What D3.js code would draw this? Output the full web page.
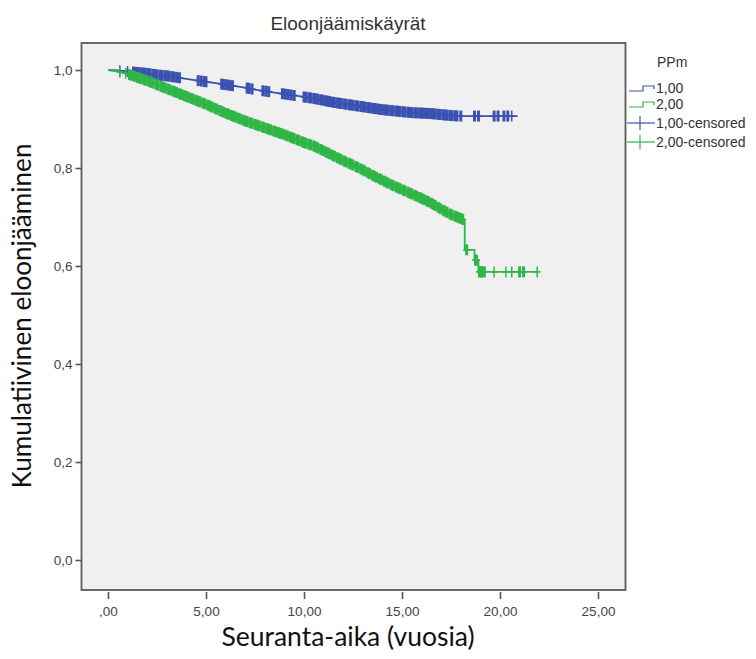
<!DOCTYPE html>
<html>
<head>
<meta charset="utf-8">
<script src="https://cdn.jsdelivr.net/npm/d3@7"></script>
<style>
  body { margin: 0; background: #fff; }
  svg { display: block; }
</style>
</head>
<body>
<div id="chart"></div>
<script>
// survival curve (time in years, cumulative survival).
// the many small steps merge into a line at this size; the late big drops are kept as real steps.
var times1 = [0, 0.5, 1.0, 1.5, 2.0, 2.5, 3.0, 3.5, 4.0, 4.5, 5.0, 5.5, 6.0, 6.5, 7.0, 7.5, 8.0, 8.5, 9.0, 9.5, 10.0, 10.5, 11.0, 11.5, 12.0, 12.5, 13.0, 13.5, 14.0, 14.5, 15.0, 15.5, 16.0, 16.5, 17.0, 17.5, 18.0, 20.9];
var surv1  = [1.000, 0.999, 0.997, 0.995, 0.993, 0.990, 0.988, 0.985, 0.982, 0.979, 0.976, 0.973, 0.970, 0.967, 0.964, 0.960, 0.957, 0.954, 0.951, 0.948, 0.945, 0.942, 0.938, 0.934, 0.931, 0.928, 0.925, 0.922, 0.919, 0.917, 0.915, 0.913, 0.912, 0.911, 0.909, 0.907, 0.906, 0.906];

var times2 = [0, 0.5, 1.0, 1.5, 2.0, 2.5, 3.0, 3.5, 4.0, 4.5, 5.0, 5.5, 6.0, 6.5, 7.0, 7.5, 8.0, 8.5, 9.0, 9.5, 10.0, 10.5, 11.0, 11.5, 12.0, 12.5, 13.0, 13.5, 14.0, 14.5, 15.0, 15.5, 16.0, 16.5, 17.0, 17.5, 18.0, 18.2, 18.2, 18.7, 18.7, 18.9, 18.9, 21.9];
var surv2  = [1.000, 0.997, 0.992, 0.985, 0.978, 0.970, 0.962, 0.954, 0.946, 0.938, 0.930, 0.921, 0.912, 0.904, 0.896, 0.889, 0.882, 0.875, 0.868, 0.860, 0.852, 0.845, 0.835, 0.825, 0.815, 0.806, 0.796, 0.785, 0.775, 0.765, 0.756, 0.747, 0.738, 0.728, 0.716, 0.705, 0.697, 0.693, 0.633, 0.633, 0.612, 0.612, 0.588, 0.588];

// censored observations (years)
var censor1 = [0.6, 1.0, 1.3, 1.45, 1.55, 1.7, 1.8, 1.9, 2.05, 2.15, 2.3, 2.4, 2.5, 2.65, 2.75, 2.9, 3.0, 3.1, 3.25, 3.35, 3.5, 3.65,
  4.6, 4.75, 4.9, 5.0, 5.8, 5.9, 6.05, 6.2, 6.35, 7.1, 7.2, 7.35, 7.9, 8.05, 8.2, 8.9, 9.05, 9.2, 9.35, 9.5,
  10.0, 10.1, 10.25, 10.35, 10.5, 10.6, 10.7, 10.85, 10.95, 11.1, 11.2, 11.3, 11.45, 11.55, 11.7, 11.8, 11.9, 12.05, 12.15, 12.3, 12.4, 12.5,
  12.65, 12.75, 12.9, 13.0, 13.1, 13.25, 13.35, 13.5, 13.6, 13.7, 13.85, 13.95, 14.1, 14.2, 14.3, 14.45, 14.55, 14.7, 14.8, 14.9, 15.05,
  15.15, 15.3, 15.4, 15.5, 15.65, 15.75, 15.9, 16.0, 16.1, 16.25, 16.35, 16.5, 16.6, 16.7, 16.85, 16.95, 17.1, 17.2, 17.3, 17.45, 17.55,
  17.7, 17.8, 18.0, 18.7, 18.9, 19.7, 19.9, 20.2, 20.4, 20.6];
var censor2 = [0.6, 0.9, 1.1, 1.2, 1.35, 1.5, 1.6, 1.7, 1.85, 1.95, 2.1, 2.2, 2.3, 2.45, 2.55, 2.7, 2.8, 2.9, 3.05, 3.15, 3.3, 3.4, 3.5,
  3.65, 3.75, 3.9, 4.0, 4.1, 4.25, 4.35, 4.5, 4.6, 4.7, 4.85, 4.95, 5.1, 5.2, 5.3, 5.45, 5.55, 5.7, 5.8, 5.9, 6.05, 6.15, 6.3, 6.4, 6.5,
  6.65, 6.75, 6.9, 7.0, 7.1, 7.25, 7.35, 7.5, 7.6, 7.7, 7.85, 7.95, 8.1, 8.2, 8.3, 8.45, 8.55, 8.7, 8.8, 8.9, 9.05, 9.15, 9.3, 9.4, 9.5,
  9.65, 9.75, 9.9, 10.0, 10.1, 10.25, 10.35, 10.5, 10.6, 10.7, 10.85, 10.95, 11.1, 11.2, 11.3, 11.45, 11.55, 11.7, 11.8, 11.9, 12.05,
  12.15, 12.3, 12.4, 12.5, 12.65, 12.75, 12.9, 13.0, 13.1, 13.25, 13.35, 13.5, 13.6, 13.7, 13.85, 13.95, 14.1, 14.2, 14.3, 14.45, 14.55,
  14.7, 14.8, 14.9, 15.05, 15.15, 15.3, 15.4, 15.5, 15.65, 15.75, 15.9, 16.0, 16.1, 16.25, 16.35, 16.5, 16.6, 16.7, 16.85, 16.95, 17.1,
  17.2, 17.3, 17.45, 17.55, 17.7, 17.8, 17.9, 18.0, 18.1, 18.3, 18.75, 18.8, 18.95, 19.0, 19.05, 19.1, 19.2, 19.7, 20.3, 20.6, 21.0, 21.2, 21.9];

var xTicks = [0, 5, 10, 15, 20, 25];
var yTicks = [0, 0.2, 0.4, 0.6, 0.8, 1.0];
var legendLabels = ["1,00", "2,00", "1,00-censored", "2,00-censored"];

var blue = "#3b52b0", green = "#2fb646";

var W = 756, H = 659;
var frame = {left: 81.5, right: 625.5, top: 43, bottom: 590};
var sans = "'Liberation Sans', Arial, sans-serif";

var svg = d3.select("#chart").append("svg")
  .attr("width", W).attr("height", H);

var x = d3.scaleLinear().domain([0, 25]).range([108, 598]);
var y = d3.scaleLinear().domain([0, 1]).range([560, 70]);

// plot background + frame
svg.append("rect")
  .attr("x", frame.left).attr("y", frame.top)
  .attr("width", frame.right - frame.left).attr("height", frame.bottom - frame.top)
  .attr("fill", "#f0f0f0")
  .attr("stroke", "#5a5a5a").attr("stroke-width", 1.8);

function commaFmt(d, digits) {
  return d3.format("." + digits + "f")(d).replace(".", ",");
}

// x axis
var xAxis = svg.append("g")
  .attr("transform", "translate(0," + (frame.bottom + 2) + ")")
  .call(d3.axisBottom(x).tickValues(xTicks).tickSize(7).tickSizeOuter(0)
    .tickFormat(function(d) { var s = commaFmt(d, 2); return d === 0 ? s.slice(1) : s; }));
xAxis.select(".domain").remove();
xAxis.selectAll(".tick line").attr("stroke", "#555").attr("stroke-width", 1.6);
xAxis.selectAll(".tick text")
  .attr("fill", "#444").attr("y", 11).attr("dy", "0.95em")
  .style("font-family", sans).style("font-size", "13.5px");

// y axis
var yAxis = svg.append("g")
  .attr("transform", "translate(" + frame.left + ",0)")
  .call(d3.axisLeft(y).tickValues(yTicks).tickSize(6).tickSizeOuter(0)
    .tickFormat(function(d) { return commaFmt(d, 1); }));
yAxis.select(".domain").remove();
yAxis.selectAll(".tick line").attr("stroke", "#555").attr("stroke-width", 1.6);
yAxis.selectAll(".tick text")
  .attr("fill", "#444").attr("x", -9)
  .style("font-family", sans).style("font-size", "13.5px");

// survival curves
var line = d3.line()
  .x(function(d) { return x(d[0]); })
  .y(function(d) { return y(d[1]); });

var series = [
  {times: times1, surv: surv1, censor: censor1, color: blue},
  {times: times2, surv: surv2, censor: censor2, color: green}
];

series.forEach(function(s) {
  svg.append("path")
    .datum(d3.zip(s.times, s.surv))
    .attr("fill", "none")
    .attr("stroke", s.color)
    .attr("stroke-width", 1.8)
    .attr("d", line);

  // survival level along the drawn curve, to sit each censor mark on it
  var level = d3.scaleLinear().domain(s.times).range(s.surv).clamp(true);

  var marks = svg.append("g").attr("stroke", s.color);
  s.censor.forEach(function(t, k) {
    var cx = x(t), cy = y(level(t));
    // overlapping marks in crowded stretches merge into a solid band
    var prev = k > 0 ? t - s.censor[k - 1] : 9, next = k < s.censor.length - 1 ? s.censor[k + 1] - t : 9;
    var sw = Math.min(prev, next) < 0.2 ? 3 : 1.5;
    marks.append("line").attr("stroke-width", sw)
      .attr("x1", cx).attr("x2", cx).attr("y1", cy - 5.5).attr("y2", cy + 5.5);
    marks.append("line").attr("stroke-width", 1.5)
      .attr("x1", cx - 3.5).attr("x2", cx + 3.5).attr("y1", cy).attr("y2", cy);
  });
});

// title
svg.append("text")
  .attr("x", 348).attr("y", 30)
  .attr("text-anchor", "middle")
  .attr("fill", "#333")
  .style("font-family", sans).style("font-size", "19px")
  .text("Eloonjäämiskäyrät");

// axis titles, sized to the width they take in the picture
function fitText(sel, target) {
  var len = sel.node().getComputedTextLength();
  var fs = parseFloat(sel.style("font-size"));
  sel.style("font-size", (fs * target / len).toFixed(2) + "px");
}

var xTitle = svg.append("text")
  .attr("x", 348).attr("y", 646)
  .attr("text-anchor", "middle")
  .attr("fill", "#111")
  .style("font-family", "Lato, sans-serif").style("font-size", "20px")
  .text("Seuranta-aika (vuosia)");
fitText(xTitle, 253);

var yTitle = svg.append("text")
  .attr("transform", "translate(31,316) rotate(-90)")
  .attr("text-anchor", "middle")
  .attr("fill", "#111")
  .style("font-family", "Lato, sans-serif").style("font-size", "20px")
  .text("Kumulatiivinen eloonjääminen");
fitText(yTitle, 345);

// legend
var lg = svg.append("g").style("font-family", sans).style("font-size", "14px");
lg.append("text").attr("x", 657).attr("y", 67).attr("fill", "#333").text("PPm");

var legendY = [88, 104, 123, 142];
legendLabels.forEach(function(lab, i) {
  var c = i % 2 === 0 ? blue : green;
  var yy = legendY[i];
  if (i < 2) {
    lg.append("path")
      .attr("d", "M629," + (yy + 3) + "H643V" + (yy - 2) + "H654V" + (yy + 1))
      .attr("fill", "none").attr("stroke", c).attr("stroke-width", 1.2);
  } else {
    lg.append("line").attr("x1", 627).attr("x2", 655).attr("y1", yy).attr("y2", yy)
      .attr("stroke", c).attr("stroke-width", 1.2);
    lg.append("line").attr("x1", 640).attr("x2", 640).attr("y1", yy - 7).attr("y2", yy + 7)
      .attr("stroke", c).attr("stroke-width", 1.2);
  }
  lg.append("text").attr("x", 656).attr("y", yy + 5).attr("fill", "#333").text(lab);
});
</script>
</body>
</html>
